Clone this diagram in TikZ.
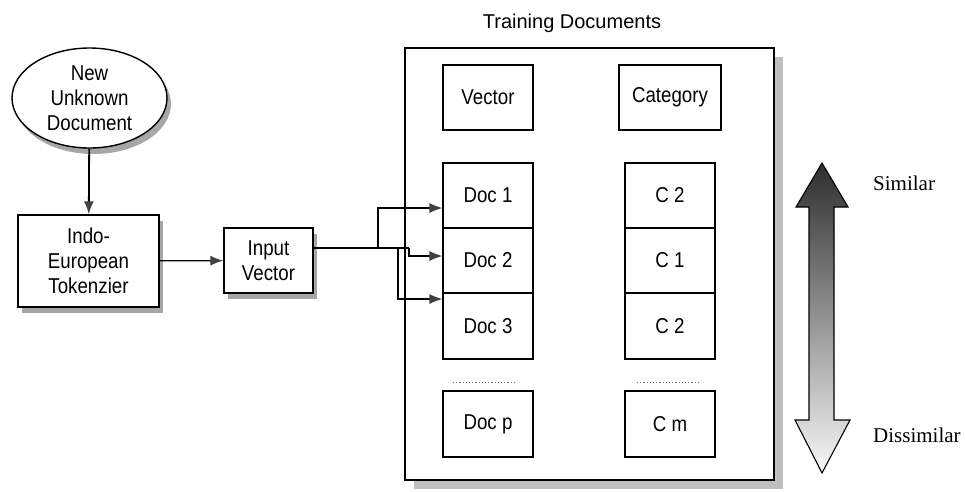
\documentclass[tikz,border=0pt]{standalone}
\usepackage{fontspec}
\setmainfont{Liberation Sans}[FakeStretch=0.87]
\newfontfamily\titlefont{Liberation Sans}
\newfontfamily\rangefont{Liberation Serif}
\usetikzlibrary{arrows.meta,shadows,calc,shapes.geometric}

\tikzset{
  boxtext/.style={font=\fontsize{21.5}{25}\selectfont, align=center},
  box/.style={draw, line width=1.4pt, fill=white, inner sep=0pt, boxtext},
  softshadow/.style={drop shadow={shadow xshift=4pt, shadow yshift=-6pt, fill=black!35, opacity=1}},
  cell/.style={draw, line width=1.2pt, fill=white, inner sep=0pt, boxtext,
               minimum width=90pt, minimum height=65pt},
  link/.style={line width=1.2pt, -{Latex[length=13pt,width=10pt,color=black!75]}},
  wire/.style={line width=1.2pt},
  gap/.style={dotted, line width=1.2pt, black!60},
}

\begin{document}
\begin{tikzpicture}[x=1pt,y=-1pt]
\useasboundingbox (0,0) rectangle (965,491);

% left-hand pipeline
\node[box, ellipse, softshadow, minimum width=155pt, minimum height=100pt]
  (newdoc) at (89.5,98) {New\\Unknown\\Document};
\node[box, softshadow, minimum width=141pt, minimum height=92pt]
  (tok) at (88.5,261) {Indo-\\European\\Tokenzier};
\node[box, softshadow, minimum width=89pt, minimum height=65pt]
  (inp) at (268.5,260.5) {Input\\Vector};

\draw[link, line width=1.8pt] (newdoc) -- (tok);
\draw[link] (tok) -- (inp);

% training documents frame
\node[draw, line width=1.8pt, fill=white, inner sep=0pt,
      drop shadow={shadow xshift=9pt, shadow yshift=-9pt, fill=black!25, opacity=1},
      minimum width=369pt, minimum height=432pt] (frame) at (589.5,264) {};
\node[anchor=base, inner sep=0pt, font=\titlefont\fontsize{20}{24}\selectfont]
  (title) at (572,28) {Training Documents};

\node[cell] (vec) at (488,97.5) {Vector};
\node[cell, minimum width=102pt] (cat) at (670,97.5) {Category};

\node[cell] (doc1) at (488,195.5) {Doc 1};
\node[cell] (doc2) at (488,260.5) {Doc 2};
\node[cell, minimum height=66pt] (doc3) at (488,326) {Doc 3};
\node[cell, minimum height=66pt] (docp) at (488,424) {Doc p};

\node[cell] (c1) at (670,195.5) {C 2};
\node[cell] (c2) at (670,260.5) {C 1};
\node[cell, minimum height=66pt] (c3) at (670,326) {C 2};
\node[cell, minimum height=66pt] (cm) at (670,424) {C m};

% elided rows
\draw[gap] ($(docp.north)+(-35,-8)$) -- ($(docp.north)+(27,-8)$);
\draw[gap] ($(cm.north)+(-33,-8)$) -- ($(cm.north)+(30,-8)$);

% input vector fanned out to the stored documents
\coordinate (split) at (378,248);
\coordinate (fork) at (398,248);
\coordinate (bend) at (409,248);
\draw[wire] (inp.east |- split) -- (bend);
\draw[link] (split) |- ($(doc1.west)+(0,12.5)$);
\draw[link] (bend) |- ($(doc2.west)+(0,-4.5)$);
\draw[link] (fork) |- ($(doc3.west)+(0,-27)$);

% similarity scale
\shade[top color=black!82, bottom color=black!3]
  (822,163) -- (848,207) -- (834,207) -- (834,420) -- (850,420) -- (822,473)
  -- (795,420) -- (809,420) -- (809,207) -- (796,207) -- cycle;
\draw[line width=1.1pt, line join=miter]
  (822,163) -- (848,207) -- (834,207) -- (834,420) -- (850,420) -- (822,473)
  -- (795,420) -- (809,420) -- (809,207) -- (796,207) -- cycle;

\node[anchor=base west, inner sep=0pt, font=\rangefont\fontsize{21}{24}\selectfont]
  (sim) at (873,190) {Similar};
\node[anchor=base west, inner sep=0pt, font=\rangefont\fontsize{21}{24}\selectfont]
  (dis) at (873,442) {Dissimilar};
\end{tikzpicture}
\end{document}
